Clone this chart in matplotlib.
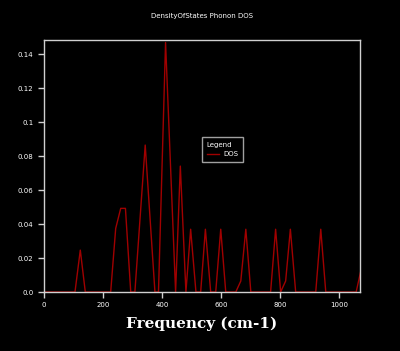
import matplotlib.pyplot as plt

# phonon DOS
freq = [0, 105, 123, 140, 226, 243, 260, 276, 294, 308, 343, 376, 388, 412,
        446, 462, 481, 497, 515, 531, 547, 565, 582, 599, 616, 650, 667, 684,
        701, 768, 785, 802, 819, 835, 853, 921, 938, 955, 1058, 1075]
dos = [0, 0, 0.0247, 0, 0, 0.0375, 0.0493, 0.0493, 0, 0, 0.0866, 0, 0, 0.147,
       0, 0.0742, 0, 0.037, 0, 0, 0.037, 0, 0, 0.037, 0, 0, 0.0065, 0.037,
       0, 0, 0.037, 0, 0.0065, 0.037, 0, 0, 0.037, 0, 0, 0.0135]

xticks = [0, 200, 400, 600, 800, 1000]
yticks = [0.0, 0.02, 0.04, 0.06, 0.08, 0.1, 0.12, 0.14]
ylabels = ["0.0", "0.02", "0.04", "0.06", "0.08", "0.1", "0.12", "0.14"]

fg = "#d0d0d0"

fig = plt.figure(figsize=(4, 3.51), dpi=100, facecolor="black")
ax = fig.add_axes([0.11, 0.168, 0.79, 0.718], facecolor="black")

ax.plot(freq, dos, color="#a00000", lw=1.0, label="DOS")

ax.set_xlim(0, 1071)
ax.set_ylim(0, 0.1485)
ax.set_xticks(xticks)
ax.set_yticks(yticks)
ax.set_yticklabels(ylabels)

for s in ax.spines.values():
    s.set_color(fg)
    s.set_linewidth(1.0)
ax.tick_params(colors=fg, labelcolor="white", labelsize=5, length=4, width=1, direction="out")

ax.set_xlabel("Frequency (cm-1)", color="white", fontsize=11, family="DejaVu Serif",
              weight="bold", labelpad=6)
fig.text(0.505, 0.955, "DensityOfStates Phonon DOS", color="white", fontsize=5,
         ha="center", va="center")

leg = ax.legend(loc="upper left", bbox_to_anchor=(0.5, 0.615), title="Legend",
                fontsize=5, title_fontsize=5, facecolor="black", edgecolor="#a0a0a0",
                fancybox=False, framealpha=1, handlelength=1.8, alignment="left",
                borderpad=0.7, borderaxespad=0, handletextpad=0.6)
for t in leg.get_texts():
    t.set_color("white")
leg.get_title().set_color("white")

fig.savefig("out.png", dpi=100, facecolor="black")
